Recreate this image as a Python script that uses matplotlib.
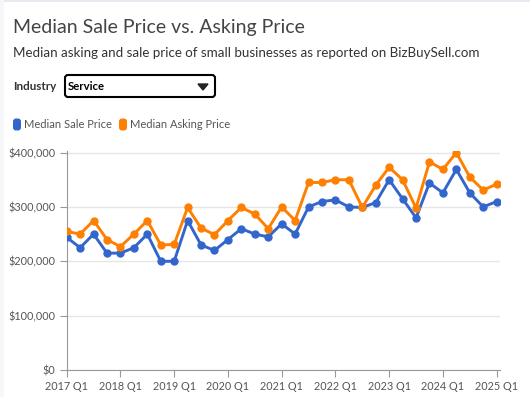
#
#  plot.py
#
#  Median sale vs asking price of small businesses (BizBuySell, Service)
#
################################################################

import numpy as np
import matplotlib.pylab as plt
from matplotlib.patches import FancyBboxPatch, Polygon
from matplotlib.ticker import FuncFormatter

plt.rcParams['font.family'] = ['Lato', 'DejaVu Sans']

quarters = ["%d Q%d" % (y, q) for y in range(2017, 2026) for q in range(1, 5)][:33]
tick_labels = ["%d Q1" % y for y in range(2017, 2026)]

sale = [244000, 225000, 250000, 215000, 215000, 225000, 250000, 200000,
        200000, 275000, 230000, 220000, 240000, 260000, 250000, 245000,
        269000, 250000, 300000, 310000, 313000, 300000, 299000, 308000,
        350000, 315000, 280000, 344000, 326000, 369000, 326000, 300000,
        310000]
asking = [255000, 250000, 275000, 240000, 227000, 250000, 275000, 230000,
          231000, 299000, 261000, 249000, 275000, 299000, 287000, 260000,
          300000, 275000, 345000, 345000, 350000, 350000, 299000, 340000,
          373000, 350000, 298000, 383000, 369000, 400000, 355000, 331000,
          342000]

blue = '#3366cc'
orange = '#ff7f00'
grey = '#555555'

W, H = 530, 397
fig = plt.figure(figsize=(W/100, H/100), dpi=100)

#  overlay in pixel coords for header widgets
ov = fig.add_axes([0, 0, 1, 1])
ov.set_xlim(0, W)
ov.set_ylim(H, 0)
ov.axis('off')
ov.add_patch(plt.Rectangle((0, 0), W, 2, color='#e6e9ef', lw=0))
ov.add_patch(plt.Rectangle((0, 0), 4, H, color='#f6f7f9', lw=0))

ov.text(13, 27, "Median Sale Price vs. Asking Price", fontsize=14,
        color='#444444', va='center')
ov.text(13, 53, "Median asking and sale price of small businesses as reported on BizBuySell.com",
        fontsize=9.6, color='#333333', va='center')
ov.text(13, 86, "Industry", fontsize=8.4, fontweight='bold', color='#333333', va='center')
ov.add_patch(FancyBboxPatch((65, 75), 150, 22, boxstyle="round,pad=0,rounding_size=3",
                            fc='white', ec='black', lw=1.5))
ov.text(68, 87, "Service", fontsize=8.2, fontweight='bold', color='black', va='center')
ov.add_patch(Polygon([[198, 84], [208, 84], [203, 90]], closed=True, color='#222222'))

#  legend
for x0, c, lab in [(13, blue, "Median Sale Price"), (119, orange, "Median Asking Price")]:
    ov.add_patch(FancyBboxPatch((x0, 118.5), 8, 12, boxstyle="round,pad=0,rounding_size=3",
                                fc=c, ec='none'))
    ov.text(x0 + 11, 125, lab, fontsize=8, color=grey, va='center')

#  chart
ax = fig.add_axes([66.7/W, 1 - 370/H, (500 - 66.7)/W, (370 - 151.5)/H])
x = np.arange(len(quarters))
ax.plot(x, sale, color=blue, lw=2.1, marker='o', ms=5, zorder=3)
ax.plot(x, asking, color=orange, lw=2.1, marker='o', ms=5, zorder=3)

ax.set_xlim(0, 32.25)
ax.set_ylim(0, 402000)
ax.set_yticks([0, 100000, 200000, 300000, 400000])
ax.yaxis.set_major_formatter(FuncFormatter(lambda v, p: "$%s" % format(int(v), ",")))
ax.set_xticks(np.arange(0, 33, 4))
ax.set_xticklabels(tick_labels)
ax.grid(axis='y', color='#e6e6e6', lw=1)
ax.set_axisbelow(True)
for s in ['top', 'right']:
    ax.spines[s].set_visible(False)
for s in ['left', 'bottom']:
    ax.spines[s].set_color('#999999')
ax.tick_params(colors='#999999', labelcolor=grey, labelsize=7.8, length=5)
ax.tick_params(axis='y', pad=3)
ax.tick_params(axis='x', pad=3)

plt.savefig("out.png", dpi=100)
